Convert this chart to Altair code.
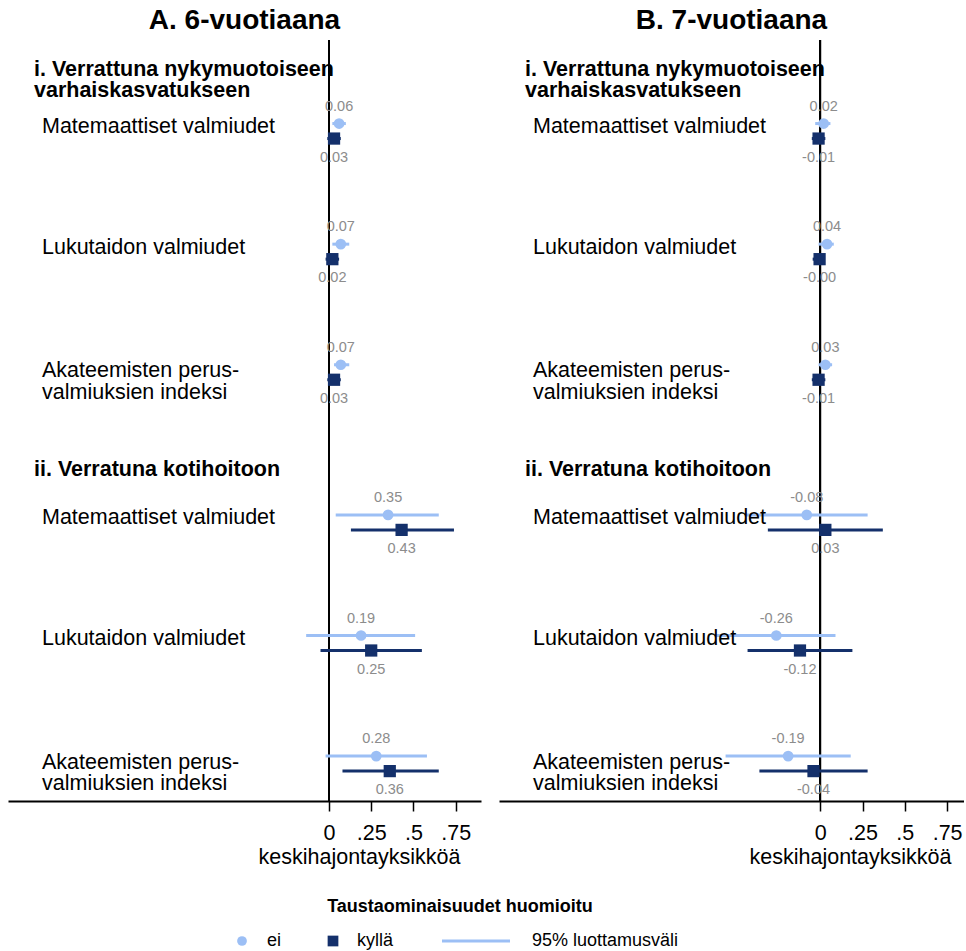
import altair as alt
import pandas as pd

# ---- labels -------------------------------------------------------------
panel_titles = ["A. 6-vuotiaana", "B. 7-vuotiaana"]
section_titles = ["i. Verrattuna nykymuotoiseen\nvarhaiskasvatukseen",
                  "ii. Verratuna kotihoitoon"]
outcomes = ["Matemaattiset valmiudet", "Lukutaidon valmiudet",
            "Akateemisten perus-\nvalmiuksien indeksi"]
groups = ["ei", "kyllä"]

# ---- estimates (section i rows first, then section ii) -------------------
# Panel A: 6-year-olds
a_ei = [0.06, 0.07, 0.07, 0.35, 0.19, 0.28]
a_ei_lo = [0.02, 0.02, 0.03, 0.04, -0.135, -0.02]
a_ei_hi = [0.10, 0.12, 0.12, 0.65, 0.51, 0.58]
a_ky = [0.03, 0.02, 0.03, 0.43, 0.25, 0.36]
a_ky_lo = [-0.01, -0.02, -0.01, 0.13, -0.05, 0.08]
a_ky_hi = [0.07, 0.06, 0.07, 0.74, 0.55, 0.65]

# Panel B: 7-year-olds
b_ei = [0.02, 0.04, 0.03, -0.08, -0.26, -0.19]
b_ei_lo = [-0.03, -0.01, -0.01, -0.44, -0.62, -0.56]
b_ei_hi = [0.06, 0.08, 0.07, 0.28, 0.09, 0.18]
b_ky = [-0.01, -0.004, -0.01, 0.03, -0.12, -0.04]
b_ky_lo = [-0.05, -0.045, -0.05, -0.31, -0.43, -0.36]
b_ky_hi = [0.03, 0.025, 0.03, 0.37, 0.19, 0.28]

# ---- styling --------------------------------------------------------------
FONT = "Liberation Sans"
LIGHT = "#9cbff5"
DARK = "#14306b"
GREY = "#8c8c8c"
TXT = 21.5
PX_PER_UNIT = 169
PLOT_H = 761
ROW_PX = 120.6                      # vertical spacing of rows
Y_MAX = PLOT_H / ROW_PX
SECTION_START = [0.755, 4.0]        # first row of each section (row units)
SECTION_HEAD = [0.245, 3.565]       # heading position (row units)
PAIR_OFF = 7.5                      # px offset of the two estimates in a row


def panel_frame(ei, ei_lo, ei_hi, ky, ky_lo, ky_hi):
    rows = []
    for s in range(len(section_titles)):
        for k, name in enumerate(outcomes):
            i = s * len(outcomes) + k
            pos = SECTION_START[s] + k
            for g, (v, lo, hi) in zip(groups, [(ei[i], ei_lo[i], ei_hi[i]),
                                              (ky[i], ky_lo[i], ky_hi[i])]):
                rows.append(dict(outcome=name, group=g, est=v, lo=lo, hi=hi,
                                 pos=pos, txt=f"{v:.2f}"))
    return pd.DataFrame(rows)


def label_frame():
    rows = []
    for s in range(len(section_titles)):
        for k, name in enumerate(outcomes):
            off = -1 if "\n" in name else -4
            rows.append(dict(name=name, ypos=SECTION_START[s] + k + off / ROW_PX))
    return pd.DataFrame(rows)


def head_frame():
    return pd.DataFrame(dict(name=section_titles, ypos=SECTION_HEAD))


def make_panel(title, df, xmin, xmax):
    width = round((xmax - xmin) * PX_PER_UNIT)
    xs = alt.Scale(domain=[xmin, xmax], nice=False, zero=False)
    ys = alt.Scale(domain=[0, Y_MAX], reverse=True, nice=False, zero=False)
    xaxis = alt.Axis(values=[0, 0.25, 0.5, 0.75],
                     labelExpr="datum.value == 0 ? '0' : substring(format(datum.value, '.2~f'), 1)",
                     grid=False, domainColor="black", domainWidth=2,
                     tickColor="black", tickWidth=1.5, tickSize=10,
                     labelFontSize=TXT, labelColor="black", labelPadding=11,
                     labelFont=FONT, title="keskihajontayksikköä",
                     titleFontSize=TXT, titleFontWeight="normal", titleFont=FONT,
                     titleColor="black", titleX=351, titleY=62,
                     titleAlign="center", titleBaseline="alphabetic")
    X = alt.X("est:Q", scale=xs, axis=xaxis)
    Y = alt.Y("pos:Q", scale=ys, axis=None)

    base = alt.Chart(df)
    ei = base.transform_filter(alt.datum.group == "ei")
    ky = base.transform_filter(alt.datum.group == "kyllä")

    zero = alt.Chart(df).mark_rule(color="black", strokeWidth=1.5).encode(
        x=alt.X("z:Q", scale=xs, axis=xaxis)).transform_calculate(z="0")

    ci_ei = ei.mark_rule(color=LIGHT, strokeWidth=3, yOffset=-PAIR_OFF).encode(
        x=alt.X("lo:Q", scale=xs, axis=xaxis), x2="hi:Q", y=Y)
    ci_ky = ky.mark_rule(color=DARK, strokeWidth=3, yOffset=PAIR_OFF).encode(
        x=alt.X("lo:Q", scale=xs, axis=xaxis), x2="hi:Q", y=Y)
    pt_ei = ei.mark_circle(color=LIGHT, size=115, opacity=1,
                           yOffset=-PAIR_OFF).encode(x=X, y=Y)
    pt_ky = ky.mark_square(color=DARK, size=150, opacity=1,
                           yOffset=PAIR_OFF).encode(x=X, y=Y)
    tx_ei = ei.mark_text(color=GREY, fontSize=14.5, font=FONT, baseline="middle",
                         yOffset=-PAIR_OFF, dy=-17).encode(x=X, y=Y, text="txt:N")
    tx_ky = ky.mark_text(color=GREY, fontSize=14.5, font=FONT, baseline="middle",
                         yOffset=PAIR_OFF, dy=19).encode(x=X, y=Y, text="txt:N")

    labels = alt.Chart(label_frame()).mark_text(
        align="left", baseline="middle", fontSize=TXT, font=FONT, color="black",
        lineBreak="\n", lineHeight=21.5).encode(
        x=alt.value(34), y=alt.Y("ypos:Q", scale=ys, axis=None), text="name:N")
    heads = alt.Chart(head_frame()).mark_text(
        align="left", baseline="middle", fontSize=TXT, fontWeight="bold",
        font=FONT, color="black", lineBreak="\n", lineHeight=21.5).encode(
        x=alt.value(26), y=alt.Y("ypos:Q", scale=ys, axis=None), text="name:N")

    return alt.layer(zero, ci_ei, ci_ky, pt_ei, pt_ky, tx_ei, tx_ky,
                     labels, heads).properties(
        width=width, height=PLOT_H,
        title=alt.TitleParams(title, fontSize=28, fontWeight="bold", font=FONT,
                              anchor="middle", color="black", offset=4))


panel_a = make_panel(panel_titles[0],
                     panel_frame(a_ei, a_ei_lo, a_ei_hi, a_ky, a_ky_lo, a_ky_hi),
                     -1.9, 0.9)
panel_b = make_panel(panel_titles[1],
                     panel_frame(b_ei, b_ei_lo, b_ei_hi, b_ky, b_ky_lo, b_ky_hi),
                     -1.9, 0.85)

# ---- key below the panels --------------------------------------------------
legend_title = "Taustaominaisuudet huomioitu"
legend_items = ["ei", "kyllä", "95% luottamusväli"]
one = pd.DataFrame({"k": [0]})
LEG_W, LEG_H = 956, 73
ty, iy = 37, 71
key = alt.layer(
    alt.Chart(one).mark_text(text=legend_title, fontSize=18, fontWeight="bold",
                             font=FONT, align="center", baseline="middle").encode(
        x=alt.value(452), y=alt.value(ty)),
    alt.Chart(one).mark_circle(color=LIGHT, size=95, opacity=1).encode(
        x=alt.value(234), y=alt.value(iy)),
    alt.Chart(one).mark_text(text=legend_items[0], fontSize=18, font=FONT,
                             align="left", baseline="middle").encode(
        x=alt.value(259), y=alt.value(iy)),
    alt.Chart(one).mark_square(color=DARK, size=115, opacity=1).encode(
        x=alt.value(325), y=alt.value(iy)),
    alt.Chart(one).mark_text(text=legend_items[1], fontSize=18, font=FONT,
                             align="left", baseline="middle").encode(
        x=alt.value(349), y=alt.value(iy)),
    alt.Chart(one).mark_rule(color=LIGHT, strokeWidth=3).encode(
        x=alt.value(434), x2=alt.value(502), y=alt.value(iy)),
    alt.Chart(one).mark_text(text=legend_items[2], fontSize=18, font=FONT,
                             align="left", baseline="middle").encode(
        x=alt.value(524), y=alt.value(iy)),
).properties(width=LEG_W, height=LEG_H)

chart = alt.vconcat(
    alt.hconcat(panel_a, panel_b, spacing=18),
    key, spacing=2,
).properties(
    padding={"left": 8, "top": 7, "right": 0, "bottom": 0},
    background="white",
).configure(font=FONT).configure_view(stroke=None)

chart.save("out.html", embed_options={"renderer": "svg", "actions": False})
